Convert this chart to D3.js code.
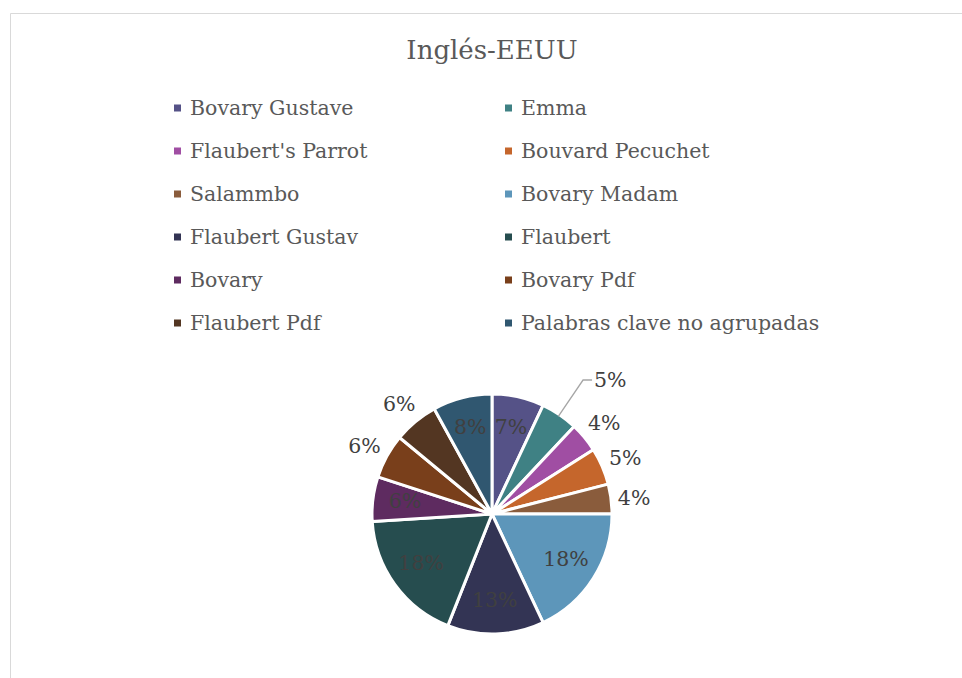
<!DOCTYPE html>
<html>
<head>
<meta charset="utf-8">
<script src="https://cdn.jsdelivr.net/npm/d3@7"></script>
<style>
  body { margin: 0; background: #fff; }
  svg { display: block; font-family: "DejaVu Serif", serif; }
</style>
</head>
<body>
<div id="chart"></div>
<script>
const title = "Inglés-EEUU";
const categories = [
  "Bovary Gustave", "Emma", "Flaubert's Parrot", "Bouvard Pecuchet",
  "Salammbo", "Bovary Madam", "Flaubert Gustav", "Flaubert",
  "Bovary", "Bovary Pdf", "Flaubert Pdf", "Palabras clave no agrupadas"
];
const shares = [7, 5, 4, 5, 4, 18, 13, 18, 6, 6, 6, 8];
const colors = [
  "#555287", "#3f8184", "#a04ea3", "#c5662c",
  "#8a5c3c", "#5d96ba", "#333454", "#264d4f",
  "#5e2b60", "#793f1b", "#533622", "#305770"
];
// where Excel put each data label: inside, outside, or outside with a leader line
const labelPlace = ["in", "leader", "out", "out", "out", "in", "in", "in", "in", "out", "out", "in"];

const W = 962, H = 678;
const cx = 492, cy = 514, r = 120;

const svg = d3.select("#chart").append("svg").attr("width", W).attr("height", H);

// chart frame
svg.append("path")
  .attr("d", `M10.5,${H} V13.5 H${W}`)
  .attr("fill", "none")
  .attr("stroke", "#d9d9d9")
  .attr("stroke-width", 1);

svg.append("text")
  .attr("x", cx)
  .attr("y", 50)
  .attr("text-anchor", "middle")
  .attr("dominant-baseline", "central")
  .style("font-size", "26px")
  .attr("fill", "#595959")
  .text(title);

// legend, two columns
const colX = [174, 505];
const rowY = d3.range(Math.ceil(categories.length / 2)).map((i) => 108 + i * 43);
const legend = svg.append("g");
categories.forEach((c, i) => {
  const x = colX[i % 2], y = rowY[Math.floor(i / 2)];
  const g = legend.append("g").attr("transform", `translate(${x},${y})`);
  g.append("rect").attr("x", 0).attr("y", -3.5).attr("width", 7).attr("height", 7).attr("fill", colors[i]);
  g.append("text")
    .attr("x", 16)
    .attr("y", 0)
    .attr("dominant-baseline", "central")
    .style("font-size", "20.5px")
    .attr("fill", "#595959")
    .text(c);
});

// pie
const data = categories.map((c, i) => ({ name: c, value: shares[i], i }));
const pie = d3.pie().sort(null).value((d) => d.value);
const arcs = pie(data);
const arc = d3.arc().innerRadius(0).outerRadius(r);

const g = svg.append("g").attr("transform", `translate(${cx},${cy})`);
g.selectAll("path.slice")
  .data(arcs)
  .join("path")
  .attr("class", "slice")
  .attr("d", arc)
  .attr("fill", (d) => colors[d.data.i])
  .attr("stroke", "#fff")
  .attr("stroke-width", 3)
  .attr("stroke-linejoin", "round");

const fmt = (v) => v + "%";
const mid = (d) => (d.startAngle + d.endAngle) / 2;

arcs.forEach((d) => {
  const a = mid(d);
  const sx = Math.sin(a), sy = -Math.cos(a);
  const place = labelPlace[d.data.i];
  if (place === "in") {
    const rr = r * 0.73;
    g.append("text")
      .attr("x", sx * rr)
      .attr("y", sy * rr - 2)
      .attr("text-anchor", "middle")
      .attr("dominant-baseline", "central")
      .style("font-size", "20.5px")
      .attr("fill", "#404040")
      .text(fmt(d.data.value));
  } else if (place === "out") {
    const ext = Math.abs(sx) * 14 + Math.abs(sy) * 11;
    const rr = r + 8 + ext;
    g.append("text")
      .attr("x", sx * rr)
      .attr("y", sy * rr + 2)
      .attr("text-anchor", "middle")
      .attr("dominant-baseline", "central")
      .style("font-size", "20.5px")
      .attr("fill", "#404040")
      .text(fmt(d.data.value));
  } else {
    const p0 = [sx * (r - 2), sy * (r - 2)];
    const p1 = [sx * (r + 42), sy * (r + 42)];
    const p2 = [p1[0] + 9, p1[1]];
    g.append("polyline")
      .attr("points", [p0, p1, p2].map((p) => p.join(",")).join(" "))
      .attr("fill", "none")
      .attr("stroke", "#a6a6a6")
      .attr("stroke-width", 1.3);
    g.append("text")
      .attr("x", p2[0] + 2)
      .attr("y", p2[1])
      .attr("dominant-baseline", "central")
      .style("font-size", "20.5px")
      .attr("fill", "#404040")
      .text(fmt(d.data.value));
  }
});
</script>
</body>
</html>
